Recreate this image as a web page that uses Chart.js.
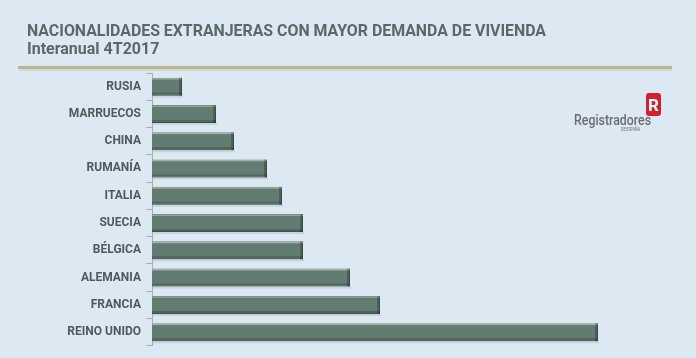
<!DOCTYPE html>
<html><head><meta charset="utf-8">
<script src="https://cdn.jsdelivr.net/npm/chart.js@4"></script>
<style>html,body{margin:0;padding:0;background:#dce8f2;overflow:hidden}#wrap{width:696px;height:358px;position:relative}</style>
</head><body><div id="wrap"><canvas id="c" width="696" height="358"></canvas></div>
<script>
const categories = ["RUSIA","MARRUECOS","CHINA","RUMANÍA","ITALIA","SUECIA","BÉLGICA","ALEMANIA","FRANCIA","REINO UNIDO"];
const values = [30,64,82,115,130,151,151,198,228,446];
const titleLines = ["NACIONALIDADES EXTRANJERAS CON MAYOR DEMANDA DE VIVIENDA","Interanual 4T2017"];
const logoText = "Registradores";
const logoSub = "DE ESPAÑA";

const decor = {
  id: 'decor',
  beforeDraw(chart) {
    const ctx = chart.ctx;
    ctx.save();
    ctx.fillStyle = '#dce8f2';
    ctx.fillRect(0, 0, chart.width, chart.height);
    ctx.fillStyle = '#596969';
    ctx.textBaseline = 'alphabetic';
    ctx.textAlign = 'left';
    ctx.font = 'bold 16px Roboto';
    ctx.fillText(titleLines[0], 27, 35.5, 519);
    ctx.fillText(titleLines[1], 27, 54, 140);
    // gold rule
    ctx.fillStyle = 'rgba(120,120,100,0.15)';
    ctx.fillRect(19, 69, 653, 2);
    ctx.fillStyle = '#c0b48a';
    ctx.fillRect(18, 66, 654, 3);
    // logo
    ctx.fillStyle = '#6b6c6e';
    ctx.font = '500 14px Roboto';
    ctx.fillText(logoText, 574, 124.5, 77);
    ctx.font = '5px Roboto';
    ctx.fillText(logoSub, 621, 130.5, 19);
    ctx.fillStyle = '#d2202f';
    ctx.beginPath();
    ctx.roundRect(646, 93, 15, 23, 3);
    ctx.fill();
    ctx.fillStyle = '#ffffff';
    ctx.font = 'bold 17px Roboto';
    ctx.textAlign = 'center';
    ctx.fillText('R', 653.5, 111, 11);
    ctx.restore();
  },
  beforeDatasetsDraw(chart) {
    const ctx = chart.ctx;
    const meta = chart.getDatasetMeta(0);
    ctx.save();
    ctx.fillStyle = 'rgba(60,80,90,0.12)';
    meta.data.forEach(el => {
      const p = el.getProps(['x','y','base','height'], true);
      ctx.fillRect(p.base + 1, p.y + p.height / 2, p.x - p.base, 2);
    });
    ctx.restore();
  },
  afterDatasetsDraw(chart) {
    const ctx = chart.ctx;
    const meta = chart.getDatasetMeta(0);
    ctx.save();
    meta.data.forEach(el => {
      const p = el.getProps(['x','y','base','height'], true);
      const top = p.y - p.height / 2, bot = p.y + p.height / 2;
      const w = p.x - p.base;
      ctx.fillStyle = 'rgba(255,255,255,0.3)';
      ctx.fillRect(p.base, top, w, 2);
      ctx.fillStyle = 'rgba(0,0,0,0.18)';
      ctx.fillRect(p.base, bot - 3, w, 3);
      ctx.fillStyle = 'rgba(0,0,0,0.22)';
      ctx.fillRect(p.x - 3, top, 3, p.height);
    });
    ctx.restore();
  }
};

new Chart(document.getElementById('c'), {
  type: 'bar',
  data: {
    labels: categories,
    datasets: [{
      data: values,
      backgroundColor: '#627c72',
      borderColor: '#4c6058',
      borderWidth: 1,
      borderSkipped: 'left',
      barPercentage: 0.66,
      categoryPercentage: 1
    }]
  },
  options: {
    indexAxis: 'y',
    responsive: false,
    animation: false,
    devicePixelRatio: 1,
    layout: { padding: { top: 73, bottom: 12, right: 44, left: 0 } },
    plugins: { legend: { display: false }, tooltip: { enabled: false }, title: { display: false } },
    scales: {
      x: { display: false, min: 0, max: 500 },
      y: {
        grid: { display: true, drawOnChartArea: false, drawTicks: true, tickLength: 6, color: '#a4b0b4', offset: true },
        border: { display: true, color: '#a4b0b4' },
        ticks: { color: '#4d5b5b', font: { family: 'Roboto', weight: 'bold', size: 12 }, padding: 5 },
        afterFit: s => { s.width = 152; }
      }
    }
  },
  plugins: [decor]
});
</script></body></html>
